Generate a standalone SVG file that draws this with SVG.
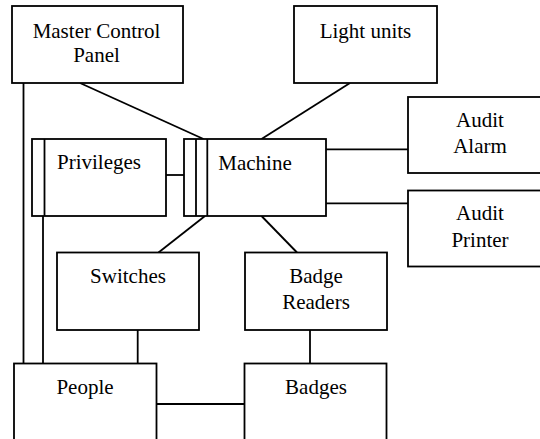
<svg xmlns="http://www.w3.org/2000/svg" width="540" height="439" viewBox="0 0 540 439">
<style>
.box{fill:#fff;stroke:#000;stroke-width:1.8}
.ln{stroke:#000;stroke-width:1.8;fill:none}
.t{font-family:'Liberation Serif','Times New Roman',serif;font-size:21px;fill:#000;text-anchor:middle}
</style>
<rect width="540" height="439" fill="#fff"/>
<g id="connectors" class="ln">
<line x1="80" y1="83" x2="203.5" y2="139"/>
<line x1="350" y1="83" x2="261.5" y2="139"/>
<line x1="23.5" y1="83" x2="23.5" y2="363.5"/>
<line x1="43" y1="216" x2="43" y2="363.5"/>
<line x1="166" y1="175" x2="184" y2="175"/>
<line x1="326" y1="149.3" x2="408" y2="149.3"/>
<line x1="326" y1="203.3" x2="408" y2="203.3"/>
<line x1="205" y1="216" x2="158.5" y2="252.5"/>
<line x1="261.5" y1="216" x2="297" y2="252.5"/>
<line x1="137.7" y1="330" x2="137.7" y2="363.5"/>
<line x1="310" y1="330" x2="310" y2="363.5"/>
<line x1="156.5" y1="404" x2="244.5" y2="404"/>
</g>
<g id="master-control-panel">
<rect class="box" x="12" y="6" width="171" height="77"/>
<text class="t" x="96.5" y="37.5">Master Control</text>
<text class="t" x="96.5" y="61.5">Panel</text>
</g>
<g id="light-units">
<rect class="box" x="294" y="6" width="143" height="77"/>
<text class="t" x="365.5" y="37.5">Light units</text>
</g>
<g id="privileges">
<rect class="box" x="32" y="139" width="134" height="77"/>
<line class="ln" x1="44.5" y1="139" x2="44.5" y2="216"/>
<text class="t" x="99" y="169">Privileges</text>
</g>
<g id="machine">
<rect class="box" x="184" y="139" width="142" height="77"/>
<line class="ln" x1="196" y1="139" x2="196" y2="216"/>
<line class="ln" x1="207.3" y1="139" x2="207.3" y2="216"/>
<text class="t" x="255" y="170">Machine</text>
</g>
<g id="audit-alarm">
<rect class="box" x="408" y="97" width="144" height="76"/>
<text class="t" x="480" y="127">Audit</text>
<text class="t" x="480" y="153">Alarm</text>
</g>
<g id="audit-printer">
<rect class="box" x="408" y="190.5" width="144" height="76"/>
<text class="t" x="480" y="220">Audit</text>
<text class="t" x="480" y="246.5">Printer</text>
</g>
<g id="switches">
<rect class="box" x="57" y="252.5" width="142" height="77.5"/>
<text class="t" x="128" y="283">Switches</text>
</g>
<g id="badge-readers">
<rect class="box" x="245" y="252.5" width="142" height="77.5"/>
<text class="t" x="316" y="283">Badge</text>
<text class="t" x="316" y="308.5">Readers</text>
</g>
<g id="people">
<rect class="box" x="14" y="363.5" width="142.5" height="77"/>
<text class="t" x="85" y="393.5">People</text>
</g>
<g id="badges">
<rect class="box" x="244.5" y="363.5" width="142" height="77"/>
<text class="t" x="316" y="393.5">Badges</text>
</g>
</svg>
